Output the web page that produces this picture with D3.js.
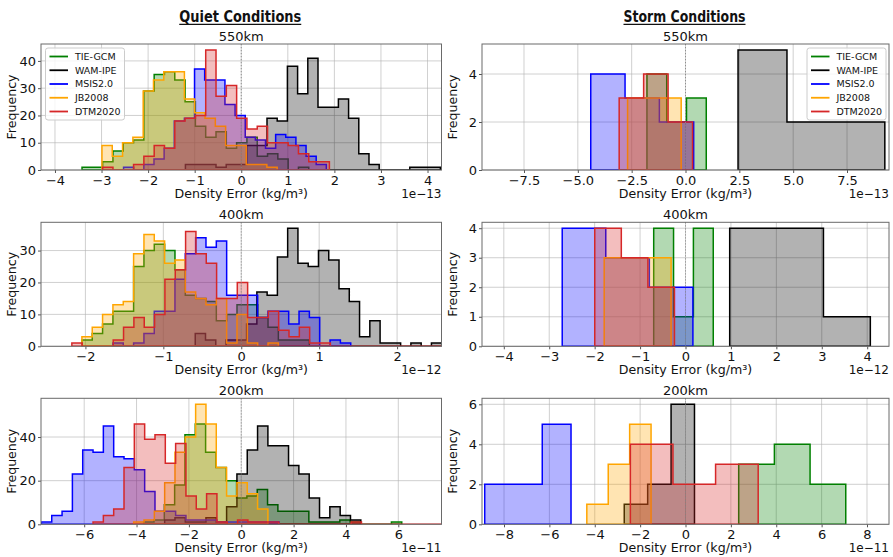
<!DOCTYPE html>
<html>
<head>
<meta charset="utf-8">
<script src="https://cdn.jsdelivr.net/npm/d3@7"></script>
<style>
  body { margin: 0; background: #fff; }
  svg text { font-family: "DejaVu Sans", sans-serif; fill: #111; }
</style>
</head>
<body>
<svg id="chart" width="893" height="557"></svg>
<script>
// ---- Models, in drawing / legend order ----
const seriesNames = ["TIE-GCM", "WAM-IPE", "MSIS2.0", "JB2008", "DTM2020"];
const seriesColors = ["#008000", "#000000", "#0000ff", "#ffa500", "#d62728"];

// Each histogram: first bin edge, bin width, counts per bin (error units shown by the offset label)

// Quiet conditions, 550 km (x1e-13 kg/m³)
const quiet550Start = [-3.419, -1.199, -2.527, -2.991, -2.976];
const quiet550Width = [0.2213, 0.219, 0.2177, 0.2213, 0.2213];
const quiet550Counts = [
  [1, 1, 3, 7, 10, 11, 29, 35, 36, 33, 25, 16, 12, 14, 8, 10, 12, 5, 6, 4, 0, 1],
  [2, 2, 2, 1, 2, 2, 9, 9, 19, 18, 38, 28, 41, 23, 23, 26, 19, 6, 2, 0, 0, 0, 1, 1, 1],
  [1, 0, 2, 4, 8, 18, 19, 37, 33, 33, 24, 20, 12, 11, 8, 13, 12, 9, 5, 2],
  [9, 5, 10, 12, 29, 33, 36, 36, 26, 21, 19, 16, 9, 9, 2, 2, 1],
  [1, 0, 0, 2, 5, 9, 8, 18, 19, 20, 44, 27, 31, 19, 15, 16, 10, 10, 9, 6, 3, 3]
];

// Quiet conditions, 400 km (x1e-12 kg/m³)
const quiet400Start = [-2.045, -0.5905, -1.647, -2.045, -2.174];
const quiet400Width = [0.1327, 0.1318, 0.1327, 0.1327, 0.1327];
const quiet400Counts = [
  [2, 4, 7, 11, 11, 25, 30, 32, 30, 24, 16, 15, 14, 8, 10, 13, 13, 9, 6, 2, 2, 2],
  [4, 2, 0, 2, 2, 7, 17, 16, 28, 37, 26, 25, 30, 27, 18, 14, 3, 8, 1, 1, 0, 1, 0, 1],
  [1, 0, 1, 4, 11, 11, 21, 29, 34, 31, 33, 16, 16, 16, 9, 11, 11, 7, 11, 9, 0, 2, 1],
  [3, 6, 10, 13, 14, 29, 35, 33, 26, 27, 17, 15, 13, 15, 1, 10, 1, 0, 1],
  [1, 0, 0, 0, 2, 6, 9, 6, 10, 21, 24, 36, 29, 26, 15, 15, 20, 9, 9, 11, 5, 3, 6, 1, 1,
   0, 0, 0, 0, 0, 0, 0, 0, 0, 0, 0]
];

// Quiet conditions, 200 km (x1e-11 kg/m³)
const quiet200Start = [-3.728, -2.926, -7.634, -4.109, -5.662];
const quiet200Width = [0.3944, 0.3944, 0.3944, 0.3944, 0.3944];
const quiet200Counts = [
  [1, 2, 9, 18, 41, 46, 33, 26, 20, 12, 13, 16, 9, 6, 6, 6, 1, 1, 1, 2, 1, 0, 0, 0, 1],
  [2, 3, 1, 1, 3, 1, 8, 23, 34, 45, 36, 36, 27, 23, 12, 3, 8, 4, 2],
  [1, 4, 6, 23, 34, 33, 45, 31, 30, 25, 15, 6, 6, 4, 2, 2, 2, 1, 1, 1, 1, 1, 1],
  [1, 2, 6, 19, 33, 40, 55, 46, 26, 13, 19, 14, 7],
  [1, 4, 7, 26, 46, 39, 41, 28, 37, 13, 7, 14, 1, 0, 2, 1, 1, 1, 0, 0, 0, 0, 0, 0, 0, 1,
   0, 0, 0, 0, 0, 0, 0, 0]
];

// Storm conditions, 550 km (x1e-13 kg/m³)
const storm550Start = [-1.79, 2.44, -4.40, -2.69, -3.08];
const storm550Width = [0.918, 2.272, 1.593, 0.83, 1.136];
const storm550Counts = [[4, 2, 3], [5, 2, 2], [4, 3, 2], [3, 3, 3], [3, 4, 2]];

// Storm conditions, 400 km (x1e-12 kg/m³)
const storm400Start = [-0.70, 0.973, -2.714, -1.79, -1.998];
const storm400Width = [0.437, 1.032, 0.959, 0.491, 0.585];
const storm400Counts = [[4, 1, 4], [4, 4, 1], [4, 3, 2], [3, 3, 3], [4, 3, 2]];

// Storm conditions, 200 km (x1e-11 kg/m³)
const storm200Start = [2.345, -2.70, -8.85, -4.35, -2.43];
const storm200Width = [1.573, 1.032, 1.268, 0.944, 1.878];
const storm200Counts = [[3, 4, 2], [1, 2, 6], [2, 2, 5], [1, 3, 5], [4, 2, 3]];

// Axis settings
const columnTitles = ["Quiet Conditions", "Storm Conditions"];
const altitudeTitles = ["550km", "400km", "200km"];
const offsetLabels = ["1e\u221213", "1e\u221212", "1e\u221211"];
const quietXLimits = [4.3, 2.57, 7.65];
const stormXLimits = [9.45, 4.48, 8.97];
const quietXTicks = [[-4, -3, -2, -1, 0, 1, 2, 3, 4], [-2, -1, 0, 1, 2], [-6, -4, -2, 0, 2, 4, 6]];
const stormXTicks = [[-7.5, -5, -2.5, 0, 2.5, 5, 7.5], [-4, -3, -2, -1, 0, 1, 2, 3, 4], [-8, -6, -4, -2, 0, 2, 4, 6, 8]];
const quietYTicks = [[0, 10, 20, 30, 40], [0, 10, 20, 30], [0, 20, 40]];
const stormYTicks = [[0, 2, 4], [0, 1, 2, 3, 4], [0, 2, 4, 6]];

// ---- Layout ----
const svg = d3.select("#chart");
const defs = svg.append("defs");
const colX = [[41, 441.5], [482, 889]];
const rowY = [[44, 170], [222.3, 346.3], [398.3, 524.3]];

const panels = [
  { col: 0, row: 0, start: quiet550Start, width: quiet550Width, counts: quiet550Counts, lim: quietXLimits[0], xt: quietXTicks[0], yt: quietYTicks[0], fmt: d3.format("d"), legend: "left" },
  { col: 0, row: 1, start: quiet400Start, width: quiet400Width, counts: quiet400Counts, lim: quietXLimits[1], xt: quietXTicks[1], yt: quietYTicks[1], fmt: d3.format("d") },
  { col: 0, row: 2, start: quiet200Start, width: quiet200Width, counts: quiet200Counts, lim: quietXLimits[2], xt: quietXTicks[2], yt: quietYTicks[2], fmt: d3.format("d") },
  { col: 1, row: 0, start: storm550Start, width: storm550Width, counts: storm550Counts, lim: stormXLimits[0], xt: stormXTicks[0], yt: stormYTicks[0], fmt: d3.format(".1f"), legend: "right" },
  { col: 1, row: 1, start: storm400Start, width: storm400Width, counts: storm400Counts, lim: stormXLimits[1], xt: stormXTicks[1], yt: stormYTicks[1], fmt: d3.format("d") },
  { col: 1, row: 2, start: storm200Start, width: storm200Width, counts: storm200Counts, lim: stormXLimits[2], xt: stormXTicks[2], yt: stormYTicks[2], fmt: d3.format("d") }
];

// Closed step outline of one histogram, in data units
function stepOutline(start, width, counts) {
  const pts = [[start, 0]];
  counts.forEach((c, k) => {
    pts.push([start + k * width, c]);
    pts.push([start + (k + 1) * width, c]);
  });
  pts.push([start + counts.length * width, 0]);
  return pts;
}

panels.forEach((p, i) => {
  const [x0, x1] = colX[p.col];
  const [y0, y1] = rowY[p.row];
  const x = d3.scaleLinear().domain([-p.lim, p.lim]).range([x0, x1]);
  const yMax = d3.max(p.counts.flat()) * 1.05;
  const y = d3.scaleLinear().domain([0, yMax]).range([y1, y0]);
  const g = svg.append("g");

  const clipId = "plot-clip-" + i;
  defs.append("clipPath").attr("id", clipId)
    .append("rect").attr("x", x0).attr("y", y0).attr("width", x1 - x0).attr("height", y1 - y0);

  // grid
  const grid = g.append("g").attr("stroke", "#b0b0b0").attr("stroke-opacity", 0.6).attr("stroke-width", 1);
  grid.selectAll(".gx").data(p.xt).join("line")
    .attr("x1", d => x(d)).attr("x2", d => x(d)).attr("y1", y0).attr("y2", y1);
  grid.selectAll(".gy").data(p.yt).join("line")
    .attr("x1", x0).attr("x2", x1).attr("y1", d => y(d)).attr("y2", d => y(d));

  // histograms
  const line = d3.line().x(d => x(d[0])).y(d => y(d[1]));
  const hist = g.append("g").attr("clip-path", `url(#${clipId})`);
  p.counts.forEach((c, s) => {
    hist.append("path")
      .attr("d", line(stepOutline(p.start[s], p.width[s], c)) + "Z")
      .attr("fill", seriesColors[s]).attr("fill-opacity", 0.3)
      .attr("stroke", seriesColors[s]).attr("stroke-width", 1.5)
      .attr("stroke-linejoin", "miter");
  });

  // zero reference
  g.append("line")
    .attr("x1", x(0)).attr("x2", x(0)).attr("y1", y0).attr("y2", y1)
    .attr("stroke", "#888").attr("stroke-width", 0.9).attr("stroke-dasharray", "1.2,1.8");

  // axes
  const xAxis = d3.axisBottom(x).tickValues(p.xt).tickFormat(p.fmt).tickSize(3).tickPadding(2.5);
  const yAxis = d3.axisLeft(y).tickValues(p.yt).tickFormat(d3.format("d")).tickSize(3).tickPadding(2);
  const gx = g.append("g").attr("transform", `translate(0,${y1})`).call(xAxis);
  const gy = g.append("g").attr("transform", `translate(${x0},0)`).call(yAxis);
  [gx, gy].forEach(a => {
    a.select(".domain").remove();
    a.selectAll(".tick line").attr("stroke", "#555");
    a.selectAll(".tick text").attr("font-size", 13).attr("font-family", "DejaVu Sans").attr("fill", "#111");
  });

  // frame
  g.append("rect").attr("x", x0).attr("y", y0).attr("width", x1 - x0).attr("height", y1 - y0)
    .attr("fill", "none").attr("stroke", "#6a6a6a").attr("stroke-width", 1);

  // labels
  const cx = (x0 + x1) / 2;
  g.append("text").attr("x", cx).attr("y", y0 - 3.5).attr("text-anchor", "middle")
    .attr("font-size", 13).text(altitudeTitles[p.row]);
  g.append("text").attr("x", cx).attr("y", y1 + 28).attr("text-anchor", "middle")
    .attr("font-size", 12.6).text("Density Error (kg/m\u00b3)");
  g.append("text").attr("x", x1).attr("y", y1 + 28).attr("text-anchor", "end")
    .attr("font-size", 12).text(offsetLabels[p.row]);
  g.append("text")
    .attr("transform", `translate(${x0 - 25},${(y0 + y1) / 2}) rotate(-90)`)
    .attr("text-anchor", "middle").attr("font-size", 12.6).text("Frequency");

  // legend
  if (p.legend) {
    const lw = 79, lh = 72;
    const lx = p.legend === "left" ? x0 + 4.5 : x1 - 3 - lw;
    const ly = y0 + 4;
    const lg = g.append("g").attr("transform", `translate(${lx},${ly})`);
    lg.append("rect").attr("width", lw).attr("height", lh).attr("rx", 2.5)
      .attr("fill", "#fff").attr("fill-opacity", 0.8)
      .attr("stroke", "#cccccc").attr("stroke-width", 1);
    seriesNames.forEach((name, s) => {
      const ry = 8.5 + s * 13.75;
      lg.append("line").attr("x1", 4).attr("x2", 22.5).attr("y1", ry).attr("y2", ry)
        .attr("stroke", seriesColors[s]).attr("stroke-width", 1.8);
      lg.append("text").attr("x", 29.5).attr("y", ry + 3.4).attr("font-size", 9.5).text(name);
    });
  }
});

// Column headings, underlined
columnTitles.forEach((t, c) => {
  const cx = (colX[c][0] + colX[c][1]) / 2 - 1;
  svg.append("text").attr("x", cx - 61).attr("y", 21.8)
    .attr("font-family", "Lato, 'Open Sans', sans-serif").attr("font-weight", 600)
    .attr("font-size", 15.5)
    .attr("textLength", 122).attr("lengthAdjust", "spacingAndGlyphs")
    .text(t);
  svg.append("line").attr("x1", cx - 61).attr("x2", cx + 61).attr("y1", 24.3).attr("y2", 24.3)
    .attr("stroke", "#111").attr("stroke-width", 1.2);
});
</script>
</body>
</html>
